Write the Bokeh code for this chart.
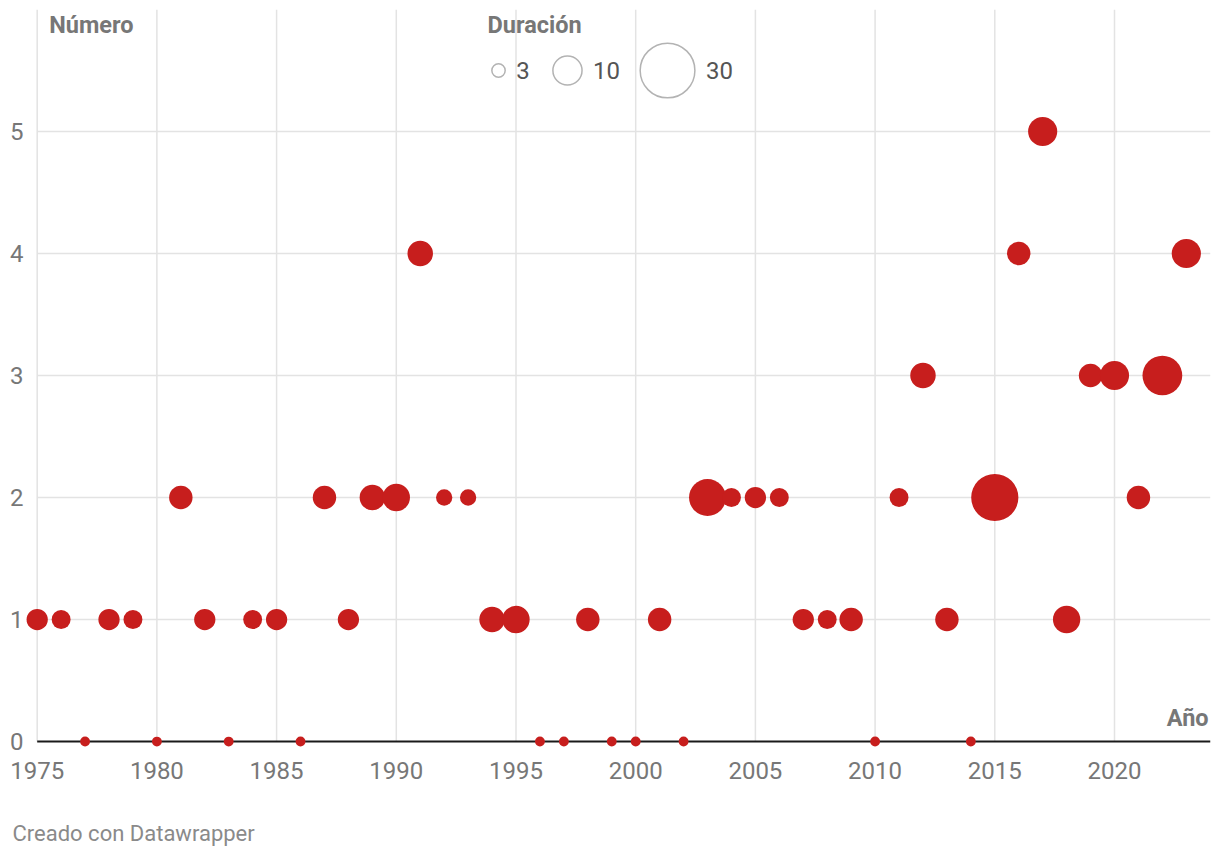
import numpy as np
from bokeh.plotting import figure
from bokeh.models import Range1d, FixedTicker, Label, ColumnDataSource, Title
from bokeh.embed import file_html
from bokeh.resources import INLINE

# ---- data ----
years = list(range(1975, 2024))
numero = [1, 1, 0, 1, 1, 0, 2, 1, 0, 1,
          1, 0, 2, 1, 2, 2, 4, 2, 2, 1,
          1, 0, 0, 1, 0, 0, 1, 0, 2, 2,
          2, 2, 1, 1, 1, 0, 2, 3, 1, 0,
          2, 4, 5, 1, 3, 3, 2, 3, 4]
duracion = [6, 5, 0, 6, 5, 0, 7, 6, 0, 5,
            6, 0, 7, 6, 8, 9, 8, 4, 4, 8,
            9, 0, 0, 7, 0, 0, 7, 0, 15, 5,
            6, 5, 6, 5, 7, 0, 5, 8, 7, 0,
            23, 7, 10, 9, 7, 10, 7, 17, 10]
legend_values = [3, 10, 30]
legend_labels = ["3", "10", "30"]
x_ticks = [1975, 1980, 1985, 1990, 1995, 2000, 2005, 2010, 2015, 2020]
y_ticks = [0, 1, 2, 3, 4, 5]

# ---- styles / layout ----
RED = "#c71e1d"
GRID = "#e3e3e3"
TXT = "#777777"
FONT = "Roboto"
X_START, X_END = 1974.47, 2024.01
Y_START, Y_END = -0.049, 6.0
SIZE_A, SIZE_B, SIZE_MIN = -5.8, 11.05, 9.8


def to_size(v):
    v = np.asarray(v, dtype=float)
    return np.maximum(SIZE_A + SIZE_B * np.sqrt(v), SIZE_MIN)


p = figure(width=1212, height=850, output_backend="svg", toolbar_location=None,
           x_range=Range1d(X_START, X_END), y_range=Range1d(Y_START, Y_END),
           min_border_left=24, min_border_right=2, min_border_top=9,
           min_border_bottom=103)
p.outline_line_color = None
p.background_fill_color = "white"
p.border_fill_color = "white"
p.xgrid.visible = False
p.ygrid.visible = False

# grid lines
p.segment(x0=x_ticks, y0=[0] * len(x_ticks), x1=x_ticks, y1=[Y_END] * len(x_ticks),
          line_color=GRID, line_width=1.5)
yt = y_ticks[1:]
p.segment(x0=[x_ticks[0]] * len(yt), y0=yt, x1=[X_END] * len(yt), y1=yt,
          line_color=GRID, line_width=1.5)
# baseline
p.segment(x0=[x_ticks[0]], y0=[0], x1=[X_END], y1=[0], line_color="#1a1a1a", line_width=2)

# axes
for ax in (p.xaxis[0], p.yaxis[0]):
    ax.axis_line_color = None
    ax.major_tick_line_color = None
    ax.minor_tick_line_color = None
    ax.major_tick_out = 0
    ax.major_tick_in = 0
    ax.minor_tick_out = 0
    ax.major_label_text_font = FONT
    ax.major_label_text_font_size = "24px"
    ax.major_label_text_color = TXT
p.xaxis[0].ticker = FixedTicker(ticks=x_ticks)
p.yaxis[0].ticker = FixedTicker(ticks=y_ticks)
p.xaxis[0].major_label_standoff = 14
p.yaxis[0].major_label_standoff = 1

# data
src = ColumnDataSource(dict(x=years, y=numero, d=duracion, s=to_size(duracion)))
p.scatter(x="x", y="y", size="s", source=src, fill_color=RED, line_color=None)

# axis titles
p.add_layout(Label(x=1975.5, y=5.877, text="Número", text_font=FONT, text_font_size="23.5px",
                   text_font_style="bold", text_color=TXT, text_baseline="middle"))
p.add_layout(Label(x=2023.93, y=0.19, text="Año", text_font=FONT, text_font_size="23.5px",
                   text_font_style="bold", text_color=TXT, text_baseline="middle",
                   text_align="right"))

# size legend
p.add_layout(Label(x=1993.81, y=5.877, text="Duración", text_font=FONT, text_font_size="23.5px",
                   text_font_style="bold", text_color=TXT, text_baseline="middle"))
leg_x = [1994.27, 1997.15, 2001.33]
leg_y = 5.5
leg_sizes = to_size(legend_values)
p.scatter(x=leg_x, y=[leg_y] * 3, size=leg_sizes, fill_color=None,
          line_color="#b3b3b3", line_width=1.5)
for lx, ls, lt in zip(leg_x, leg_sizes, legend_labels):
    p.add_layout(Label(x=lx, y=leg_y, x_offset=float(ls) / 2 + 11, text=lt, text_font=FONT,
                       text_font_size="24px", text_color="#555555", text_baseline="middle"))

# spacer + credit below the axis
p.add_layout(Title(text=" ", standoff=33, text_font_size="2px", text_color="white"), "below")
p.add_layout(Title(text="Creado con Datawrapper", align="left", offset=-12, standoff=0,
                   text_font=FONT, text_font_size="22px", text_font_style="normal",
                   text_color="#8a8a8a"), "below")

open("out.html", "w").write(file_html(p, INLINE))
